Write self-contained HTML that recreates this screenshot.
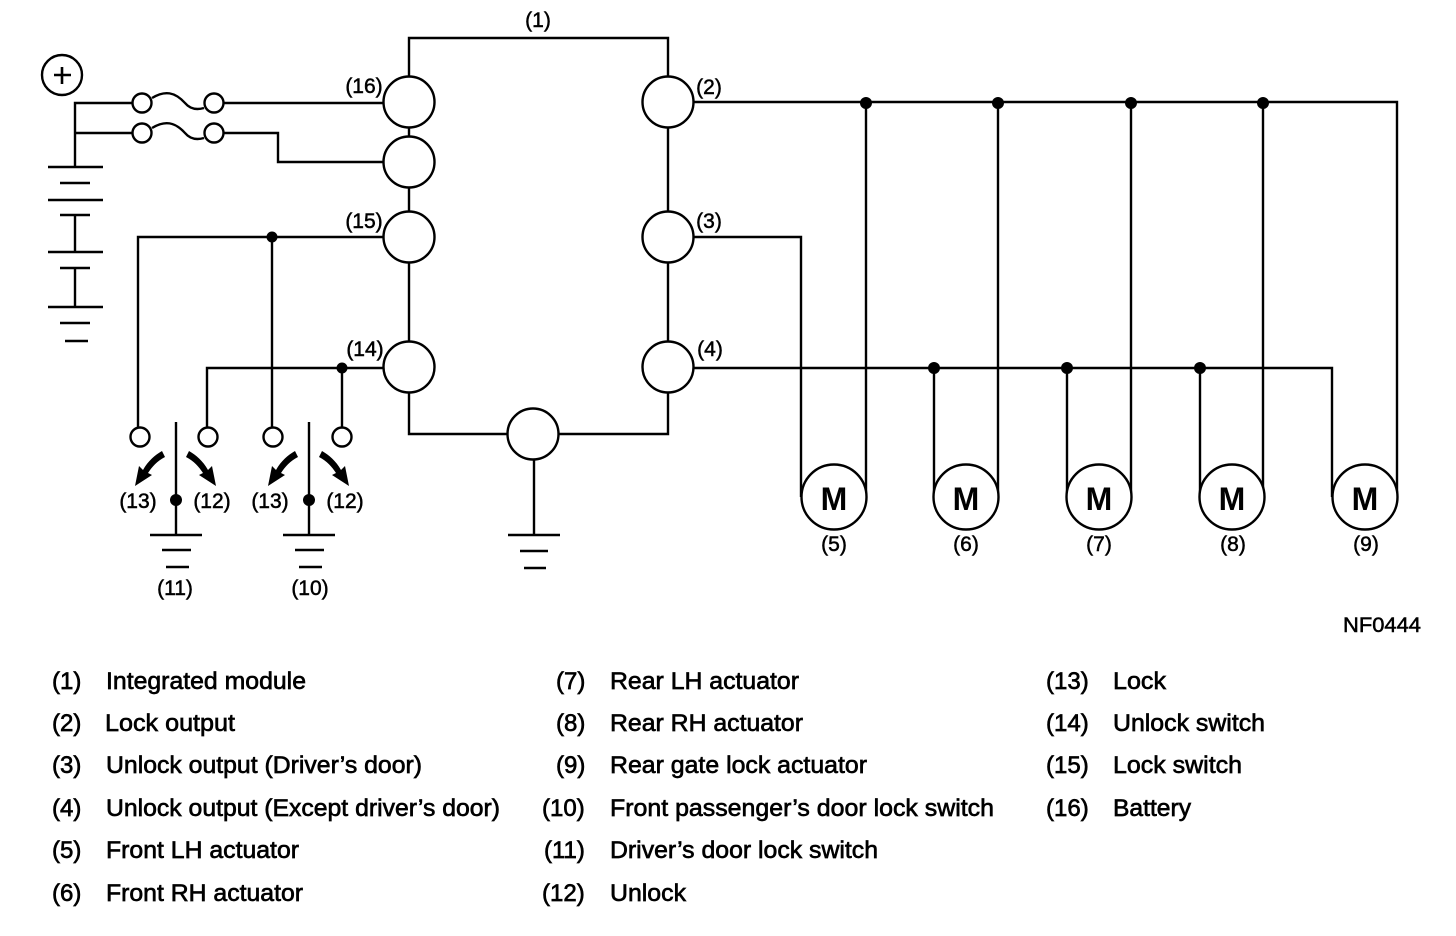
<!DOCTYPE html>
<html><head><meta charset="utf-8"><style>
html,body{margin:0;padding:0;background:#fff}
svg{display:block}
text{font-family:"Liberation Sans",sans-serif;fill:#000}
.l{font-size:24px;stroke:#000;stroke-width:.65px}
.s{font-size:21px;stroke:#000;stroke-width:.5px}
.w{fill:none;stroke:#000;stroke-width:2.4}
.c{fill:#fff;stroke:#000;stroke-width:2.4}
.d{fill:#000}
</style></head><body>
<svg width="1456" height="936" viewBox="0 0 1456 936" xmlns="http://www.w3.org/2000/svg">
<path class="w" d="M409 76V38H668V76M409 128V136M409 188V211M409 263V341M409 393V434H507M559 434H668V393M668 128V211M668 263V341M534 460V535"/>
<path class="w" d="M508 535H560M520 551H548M524 568H546"/>
<path class="w" d="M75 167V103H133M75 133H133M224 103H383M224 133H278V162H383"/>
<path class="w" d="M152 98C165 90 175 92 185 103C190 109 197 110 204 108M152 128C165 120 175 122 185 133C190 139 197 140 204 138"/>
<path class="w" d="M48 167H103M60 183H90M48 200H103M60 215H90M75 215V252M48 252H103M60 268H90M75 268V307M48 307H103M60 323H90M65 341H88"/>
<path class="w" d="M138 427V237H383M272 237V427M207 427V368H383M342 368V427"/>
<path class="w" d="M176 422V535M150 535H202M162 550H191M166 567H189M309 422V535M283 535H335M295 550H324M299 567H322"/>
<path class="w" d="M694 102H1397V497M694 237H801V497M694 368H1332V497M866 102V497M998 102V497M1131 102V497M1263 102V497M934 368V497M1067 368V497M1200 368V497"/>
<g class="c">
<circle cx="62" cy="75" r="20"/>
<circle cx="142" cy="103" r="9.5"/><circle cx="214" cy="103" r="9.5"/><circle cx="142" cy="133" r="9.5"/><circle cx="214" cy="133" r="9.5"/>
<circle cx="409" cy="102" r="25.5"/><circle cx="409" cy="162" r="25.5"/><circle cx="409" cy="237" r="25.5"/><circle cx="409" cy="367" r="25.5"/>
<circle cx="668" cy="102" r="25.5"/><circle cx="668" cy="237" r="25.5"/><circle cx="668" cy="367" r="25.5"/>
<circle cx="533" cy="434" r="25.5"/>
<circle cx="140" cy="437" r="9.5"/><circle cx="208" cy="437" r="9.5"/><circle cx="273" cy="437" r="9.5"/><circle cx="342" cy="437" r="9.5"/>
<circle cx="834" cy="497" r="32.5"/><circle cx="966" cy="497" r="32.5"/><circle cx="1099" cy="497" r="32.5"/><circle cx="1232" cy="497" r="32.5"/><circle cx="1365" cy="497" r="32.5"/>
</g>
<path d="M54 75H71M62 67V84" fill="none" stroke="#000" stroke-width="2.6"/>
<g class="d">
<circle cx="272" cy="237" r="5.5"/><circle cx="342" cy="368" r="5.5"/><circle cx="176" cy="500" r="6"/><circle cx="309" cy="500" r="6"/>
<circle cx="866" cy="103" r="6"/><circle cx="998" cy="103" r="6"/><circle cx="1131" cy="103" r="6"/><circle cx="1263" cy="103" r="6"/>
<circle cx="934" cy="368" r="6"/><circle cx="1067" cy="368" r="6"/><circle cx="1200" cy="368" r="6"/>
<path d="M162 451L165 457C157 461 152 467 148 473L152 475L135 486L139 466L143 470C148 461 155 455 162 451Z"/>
<path d="M189 451L186 457C194 461 199 467 203 473L199 475L216 486L212 466L208 470C203 461 196 455 189 451Z"/>
<path d="M295 451L298 457C290 461 285 467 281 473L285 475L268 486L272 466L276 470C281 461 288 455 295 451Z"/>
<path d="M322 451L319 457C327 461 332 467 336 473L332 475L349 486L345 466L341 470C336 461 329 455 322 451Z"/>
</g>
<g text-anchor="middle">
<text class="s" x="538" y="27">(1)</text>
<text class="s" x="709" y="94">(2)</text><text class="s" x="709" y="228">(3)</text><text class="s" x="710" y="356">(4)</text>
<text class="s" x="364" y="93">(16)</text><text class="s" x="364" y="228">(15)</text><text class="s" x="365" y="356">(14)</text>
<text class="s" x="138" y="508">(13)</text><text class="s" x="212" y="508">(12)</text><text class="s" x="270" y="508">(13)</text><text class="s" x="345" y="508">(12)</text>
<text class="s" x="175" y="595">(11)</text><text class="s" x="310" y="595">(10)</text>
<text class="s" x="834" y="551">(5)</text><text class="s" x="966" y="551">(6)</text><text class="s" x="1099" y="551">(7)</text><text class="s" x="1233" y="551">(8)</text><text class="s" x="1366" y="551">(9)</text>
</g>
<g font-weight="bold" text-anchor="middle" style="font-size:32px">
<text x="834" y="510">M</text><text x="966" y="510">M</text><text x="1099" y="510">M</text><text x="1232" y="510">M</text><text x="1365" y="510">M</text>
</g>
<text class="s" x="1343" y="632" textLength="78" lengthAdjust="spacingAndGlyphs">NF0444</text>

<text class="l" x="52" y="689">(1)</text><text class="l" x="106" y="689" textLength="200" lengthAdjust="spacingAndGlyphs">Integrated module</text>
<text class="l" x="52" y="731">(2)</text><text class="l" x="105" y="731" textLength="130" lengthAdjust="spacingAndGlyphs">Lock output</text>
<text class="l" x="52" y="773">(3)</text><text class="l" x="106" y="773" textLength="316" lengthAdjust="spacingAndGlyphs">Unlock output (Driver’s door)</text>
<text class="l" x="52" y="816">(4)</text><text class="l" x="106" y="816" textLength="394" lengthAdjust="spacingAndGlyphs">Unlock output (Except driver’s door)</text>
<text class="l" x="52" y="858">(5)</text><text class="l" x="106" y="858" textLength="193" lengthAdjust="spacingAndGlyphs">Front LH actuator</text>
<text class="l" x="52" y="901">(6)</text><text class="l" x="106" y="901" textLength="197" lengthAdjust="spacingAndGlyphs">Front RH actuator</text>

<text class="l" x="556" y="689">(7)</text><text class="l" x="610" y="689" textLength="189" lengthAdjust="spacingAndGlyphs">Rear LH actuator</text>
<text class="l" x="556" y="731">(8)</text><text class="l" x="610" y="731" textLength="193" lengthAdjust="spacingAndGlyphs">Rear RH actuator</text>
<text class="l" x="556" y="773">(9)</text><text class="l" x="610" y="773" textLength="257" lengthAdjust="spacingAndGlyphs">Rear gate lock actuator</text>
<text class="l" x="542" y="816">(10)</text><text class="l" x="610" y="816" textLength="384" lengthAdjust="spacingAndGlyphs">Front passenger’s door lock switch</text>
<text class="l" x="544" y="858">(11)</text><text class="l" x="610" y="858" textLength="268" lengthAdjust="spacingAndGlyphs">Driver’s door lock switch</text>
<text class="l" x="542" y="901">(12)</text><text class="l" x="610" y="901" textLength="76" lengthAdjust="spacingAndGlyphs">Unlock</text>

<text class="l" x="1046" y="689">(13)</text><text class="l" x="1113" y="689" textLength="53" lengthAdjust="spacingAndGlyphs">Lock</text>
<text class="l" x="1046" y="731">(14)</text><text class="l" x="1113" y="731" textLength="152" lengthAdjust="spacingAndGlyphs">Unlock switch</text>
<text class="l" x="1046" y="773">(15)</text><text class="l" x="1113" y="773" textLength="129" lengthAdjust="spacingAndGlyphs">Lock switch</text>
<text class="l" x="1046" y="816">(16)</text><text class="l" x="1113" y="816" textLength="78" lengthAdjust="spacingAndGlyphs">Battery</text>
</svg>
</body></html>
